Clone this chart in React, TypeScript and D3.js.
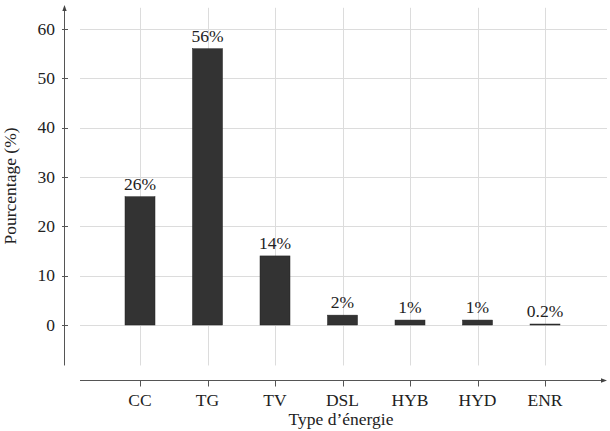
import React from 'react'
import * as d3 from 'd3'

// parts de production par type d'énergie
const categories = ['CC', 'TG', 'TV', 'DSL', 'HYB', 'HYD', 'ENR']
const values = [26, 56, 14, 2, 1, 1, 0.2]
const valueLabels = ['26%', '56%', '14%', '2%', '1%', '1%', '0.2%']
const yTicks = [0, 10, 20, 30, 40, 50, 60]

const width = 610, height = 431
const font = "'Liberation Serif', 'DejaVu Serif', serif"
const fs = 17.5

export default function App() {
    const x = d3.scalePoint<string>().domain(categories).range([140, 545])
    const y = d3.scaleLinear().domain([0, 60]).range([325, 29])
    const barW = 30
    const axisX = 64.5, axisY = 380.5
    const gridTop = y(64.3), gridBottom = y(-8.2)
    const gridLeft = 80, gridRight = 607

    return (
        <svg width={width} height={height} style={{position: 'absolute', left: 0, top: 0}}>
            {/* grille */}
            <g stroke="#dcdcdc" strokeWidth={1}>
                {yTicks.map(t => (
                    <line key={'h' + t} x1={gridLeft} x2={gridRight} y1={Math.round(y(t)) + 0.5} y2={Math.round(y(t)) + 0.5}/>
                ))}
                {categories.map(c => (
                    <line key={'v' + c} x1={Math.round(x(c)!) + 0.5} x2={Math.round(x(c)!) + 0.5} y1={gridTop} y2={gridBottom}/>
                ))}
            </g>

            {/* barres */}
            <g>
                {categories.map((c, i) => {
                    const top = y(values[i]), base = y(0)
                    return <rect key={c} x={x(c)! - barW / 2} y={top} width={barW} height={Math.max(base - top, 1)}
                                 fill="#333" stroke="#222" strokeWidth={0.5}/>
                })}
            </g>

            {/* étiquettes de valeur */}
            <g fontFamily={font} fontSize={fs} textAnchor="middle" fill="#222">
                {categories.map((c, i) => (
                    <text key={c} x={x(c)} y={y(values[i]) - 7}>{valueLabels[i]}</text>
                ))}
            </g>

            {/* axe vertical */}
            <g stroke="#555" strokeWidth={1}>
                <line x1={axisX} x2={axisX} y1={9} y2={gridBottom}/>
                {yTicks.map(t => (
                    <line key={t} x1={62} x2={68} y1={Math.round(y(t)) + 0.5} y2={Math.round(y(t)) + 0.5}/>
                ))}
            </g>
            <path d={`M${axisX},5 L${axisX - 2.2},11 L${axisX + 2.2},11 Z`} fill="#444"/>
            <g fontFamily={font} fontSize={fs} textAnchor="end" fill="#222">
                {yTicks.map(t => (
                    <text key={t} x={55} y={y(t)} dy="0.33em">{t}</text>
                ))}
            </g>
            <text transform={`translate(16,${186}) rotate(-90)`} fontFamily={font} fontSize={fs} textAnchor="middle" fill="#222">Pourcentage (%)</text>

            {/* axe horizontal */}
            <g stroke="#555" strokeWidth={1}>
                <line x1={gridLeft} x2={603} y1={axisY} y2={axisY}/>
                {categories.map(c => (
                    <line key={c} x1={Math.round(x(c)!) + 0.5} x2={Math.round(x(c)!) + 0.5} y1={axisY} y2={axisY + 6}/>
                ))}
            </g>
            <path d={`M607,${axisY} L601,${axisY - 2.2} L601,${axisY + 2.2} Z`} fill="#444"/>
            <g fontFamily={font} fontSize={fs} textAnchor="middle" fill="#222">
                {categories.map(c => (
                    <text key={c} x={x(c)} y={406}>{c}</text>
                ))}
            </g>
            <text x={341} y={425} fontFamily={font} fontSize={fs} textAnchor="middle" fill="#222">Type d’énergie</text>
        </svg>
    )
}
